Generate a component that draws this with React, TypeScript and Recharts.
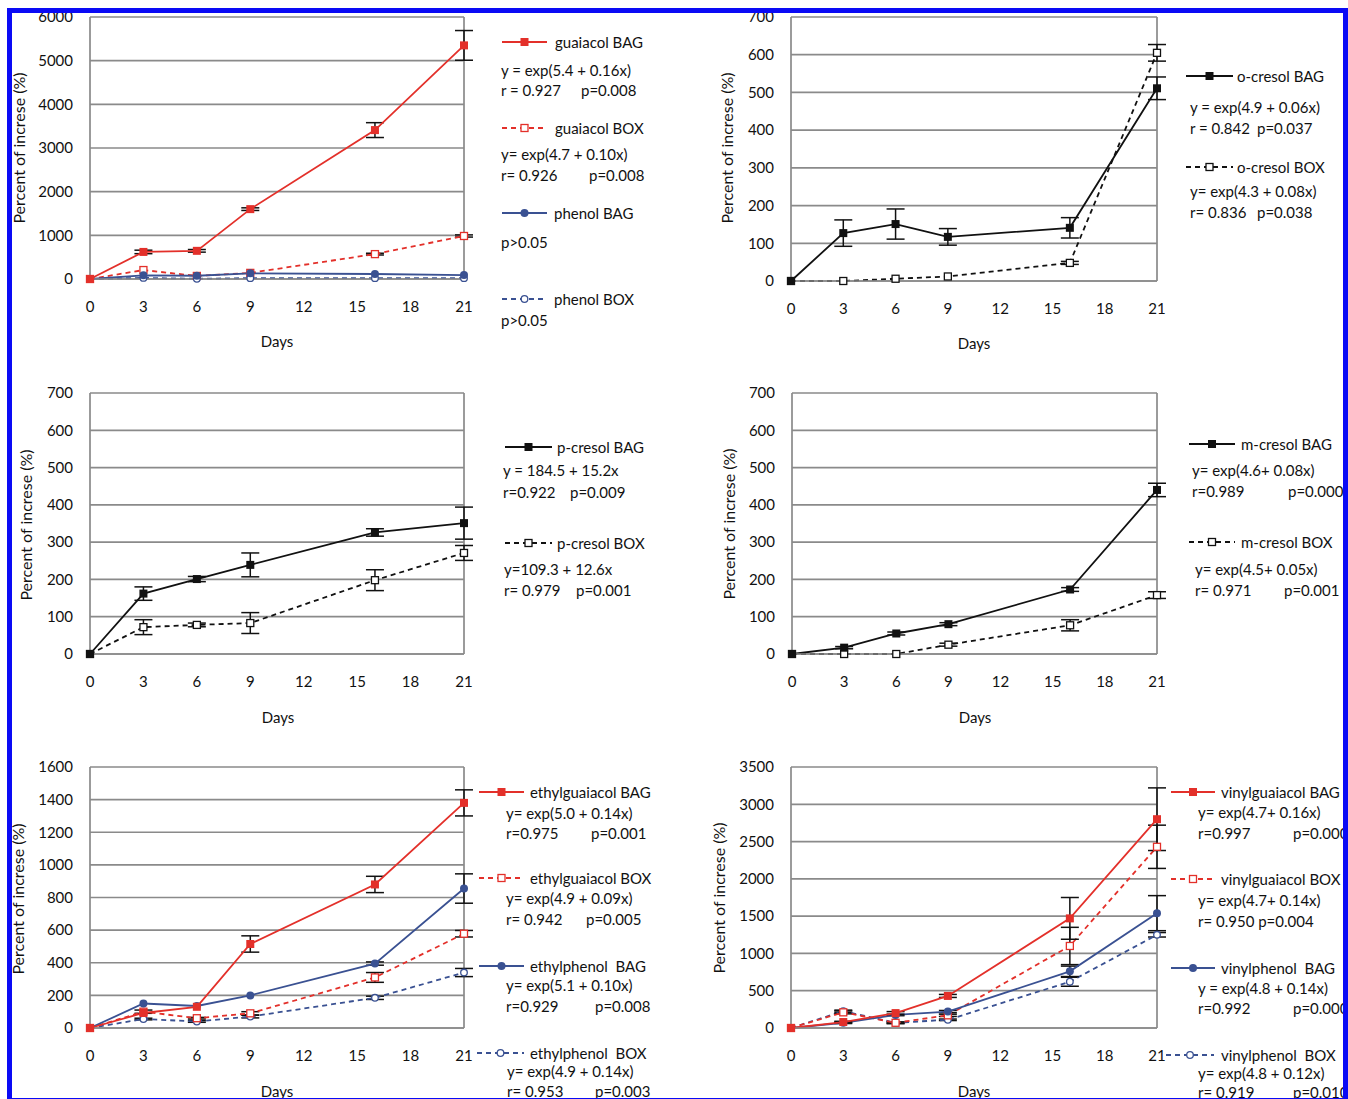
import React from "react"
import { LineChart, Line, XAxis, YAxis, CartesianGrid, ErrorBar, ReferenceLine } from "recharts"

// sampling days and axis ticks
const days = [0, 3, 6, 9, 16, 21]
const dayTicks = [0, 3, 6, 9, 12, 15, 18, 21]

// guaiacol / phenol
const guaiacolBag = [0, 620, 645, 1600, 3410, 5350]
const guaiacolBagErr = [0, 40, 30, 30, 170, 340]
const guaiacolBox = [0, 205, 70, 140, 570, 985]
const guaiacolBoxErr = [0, 0, 0, 0, 20, 25]
const phenolBag = [0, 85, 75, 130, 115, 90]
const phenolBox = [0, 25, 5, 20, 20, 20]
const ticksGuaiacol = [0, 1000, 2000, 3000, 4000, 5000, 6000]

// o-cresol
const oCresolBag = [0, 127, 151, 117, 141, 511]
const oCresolBagErr = [0, 35, 40, 22, 27, 30]
const oCresolBox = [0, 0, 6, 12, 48, 605]
const oCresolBoxErr = [0, 0, 0, 0, 4, 22]
const ticksCresol = [0, 100, 200, 300, 400, 500, 600, 700]

// p-cresol
const pCresolBag = [0, 162, 201, 239, 326, 351]
const pCresolBagErr = [0, 18, 7, 32, 10, 43]
const pCresolBox = [0, 72, 78, 83, 198, 271]
const pCresolBoxErr = [0, 20, 5, 28, 28, 20]

// m-cresol
const mCresolBag = [0, 17, 55, 80, 173, 440]
const mCresolBagErr = [0, 3, 4, 4, 5, 18]
const mCresolBox = [0, 0, 0, 25, 77, 158]
const mCresolBoxErr = [0, 0, 0, 4, 15, 9]

// ethylguaiacol / ethylphenol
const ethylguaiacolBag = [0, 92, 130, 515, 880, 1380]
const ethylguaiacolBagErr = [0, 0, 0, 50, 50, 80]
const ethylguaiacolBox = [0, 100, 60, 90, 310, 578]
const ethylguaiacolBoxErr = [0, 10, 5, 10, 30, 20]
const ethylphenolBag = [0, 150, 135, 200, 395, 855]
const ethylphenolBagErr = [0, 0, 0, 0, 10, 90]
const ethylphenolBox = [0, 55, 40, 70, 185, 340]
const ethylphenolBoxErr = [0, 5, 5, 8, 10, 25]
const ticksEthyl = [0, 200, 400, 600, 800, 1000, 1200, 1400, 1600]

// vinylguaiacol / vinylphenol
const vinylguaiacolBag = [0, 80, 200, 430, 1470, 2800]
const vinylguaiacolBagErr = [0, 10, 20, 20, 280, 420]
const vinylguaiacolBox = [0, 210, 70, 170, 1100, 2430]
const vinylguaiacolBoxErr = [0, 20, 10, 15, 250, 290]
const vinylphenolBag = [0, 70, 175, 220, 760, 1540]
const vinylphenolBagErr = [0, 10, 10, 15, 70, 235]
const vinylphenolBox = [0, 225, 70, 110, 620, 1250]
const vinylphenolBoxErr = [0, 15, 10, 10, 60, 30]
const ticksVinyl = [0, 500, 1000, 1500, 2000, 2500, 3000, 3500]

const RED = "#e3302a"
const BLUE = "#3a5192"
const BLACK = "#111"
const GRID = "#8a8a8a"
const INK = "#111"
const FONT = "Lato, 'Open Sans', sans-serif"

type Marker = "square" | "openSquare" | "circle" | "openCircle"
type Series = { key: string; values: number[]; err?: number[]; color: string; dashed?: boolean; marker: Marker }

function MarkerShape({ cx, cy, marker, color }: { cx: number; cy: number; marker: Marker; color: string }) {
  if (cx == null || cy == null) return null
  if (marker === "square") return <rect x={cx - 4} y={cy - 4} width={8} height={8} fill={color} />
  if (marker === "openSquare")
    return <rect x={cx - 3.5} y={cy - 3.5} width={7} height={7} fill="#fff" stroke={color} strokeWidth={1.3} />
  if (marker === "circle") return <circle cx={cx} cy={cy} r={4} fill={color} />
  return <circle cx={cx} cy={cy} r={3.3} fill="#fff" stroke={color} strokeWidth={1.3} />
}

type PanelProps = {
  plotLeft: number; plotTop: number; plotW: number; plotH: number
  yTicks: number[]; series: Series[]
}

function Panel({ plotLeft, plotTop, plotW, plotH, yTicks, series }: PanelProps) {
  const rows = days.map((d, i) => {
    const row: Record<string, number> = { day: d }
    series.forEach((s) => {
      row[s.key] = s.values[i]
      if (s.err) row[s.key + "Err"] = s.err[i]
    })
    return row
  })
  const tick = { fontSize: 15, fill: INK, fontFamily: FONT }
  return (
    <div style={{ position: "absolute", left: plotLeft - 90, top: plotTop - 10 }}>
      <LineChart width={90 + plotW + 12} height={10 + plotH + 60} data={rows}
        margin={{ top: 10, right: 12, bottom: 0, left: 0 }}>
        <CartesianGrid vertical={false} stroke={GRID} strokeWidth={1.7} />
        <XAxis type="number" dataKey="day" domain={[0, 21]} ticks={dayTicks} height={60}
          tick={tick} tickLine={false} tickSize={6} tickMargin={16}
          axisLine={{ stroke: GRID, strokeWidth: 1.7 }} />
        <YAxis type="number" domain={[yTicks[0], yTicks[yTicks.length - 1]]} ticks={yTicks} width={90}
          tick={tick} tickLine={false} tickSize={6} tickMargin={11}
          axisLine={{ stroke: GRID, strokeWidth: 1.7 }} />
        <ReferenceLine x={21} stroke={GRID} strokeWidth={1.7} />
        {series.map((s) => (
          <Line key={s.key} type="linear" dataKey={s.key} stroke={s.color} strokeWidth={1.8}
            strokeDasharray={s.dashed ? "5 4" : undefined} isAnimationActive={false}
            dot={(p: any) => <MarkerShape key={s.key + p.index} cx={p.cx} cy={p.cy} marker={s.marker} color={s.color} />}>
            {s.err && (
              <ErrorBar dataKey={s.key + "Err"} direction="y" width={9} stroke="#111" strokeWidth={1.5} />
            )}
          </Line>
        ))}
      </LineChart>
    </div>
  )
}

function Txt({ x, y, children, size = 15 }: { x: number; y: number; children: React.ReactNode; size?: number }) {
  return (
    <div style={{ position: "absolute", left: x, top: y, transform: "translateY(-50%)", fontSize: size,
      fontFamily: FONT, color: INK, whiteSpace: "pre", lineHeight: 1 }}>{children}</div>
  )
}

function LegendKey({ x1, x2, y, color, dashed, marker }: { x1: number; x2: number; y: number; color: string; dashed?: boolean; marker: Marker }) {
  const w = x2 - x1
  return (
    <svg style={{ position: "absolute", left: x1, top: y - 6 }} width={w} height={12}>
      <line x1={0} y1={6} x2={w} y2={6} stroke={color} strokeWidth={1.8} strokeDasharray={dashed ? "5 4" : undefined} />
      <MarkerShape cx={w / 2} cy={6} marker={marker} color={color} />
    </svg>
  )
}

function YTitle({ x, y }: { x: number; y: number }) {
  return (
    <div style={{ position: "absolute", left: x, top: y, transform: "translate(-50%, -50%) rotate(-90deg)",
      fontSize: 16, fontFamily: FONT, color: INK, whiteSpace: "nowrap" }}>Percent of increse (%)</div>
  )
}

function XTitle({ x, y }: { x: number; y: number }) {
  return (
    <div style={{ position: "absolute", left: x, top: y, transform: "translate(-50%, -50%)",
      fontSize: 15, fontFamily: FONT, color: INK }}>Days</div>
  )
}

export default function App() {
  return (
    <div style={{ position: "absolute", left: 0, top: 0, width: 1348, height: 1099, background: "#fff", overflow: "hidden" }}>
      {/* top-left: guaiacol / phenol */}
      <Panel plotLeft={90} plotTop={17} plotW={374} plotH={262} yTicks={ticksGuaiacol} series={[
        { key: "guaiacolBox", values: guaiacolBox, err: guaiacolBoxErr, color: RED, dashed: true, marker: "openSquare" },
        { key: "phenolBox", values: phenolBox, color: BLUE, dashed: true, marker: "openCircle" },
        { key: "phenolBag", values: phenolBag, color: BLUE, marker: "circle" },
        { key: "guaiacolBag", values: guaiacolBag, err: guaiacolBagErr, color: RED, marker: "square" },
      ]} />
      <YTitle x={18} y={148} />
      <XTitle x={277} y={341} />
      <LegendKey x1={502} x2={547} y={42} color={RED} marker="square" />
      <Txt x={555} y={42}>guaiacol BAG</Txt>
      <Txt x={501} y={70}>y = exp(5.4 + 0.16x)</Txt>
      <Txt x={501} y={90}>r = 0.927</Txt><Txt x={581} y={90}>p=0.008</Txt>
      <LegendKey x1={502} x2={547} y={128} color={RED} dashed marker="openSquare" />
      <Txt x={555} y={128}>guaiacol BOX</Txt>
      <Txt x={501} y={154}>y= exp(4.7 + 0.10x)</Txt>
      <Txt x={501} y={175}>r= 0.926</Txt><Txt x={589} y={175}>p=0.008</Txt>
      <LegendKey x1={502} x2={547} y={213} color={BLUE} marker="circle" />
      <Txt x={554} y={213}>phenol BAG</Txt>
      <Txt x={501} y={242}>p&gt;0.05</Txt>
      <LegendKey x1={502} x2={547} y={299} color={BLUE} dashed marker="openCircle" />
      <Txt x={554} y={299}>phenol BOX</Txt>
      <Txt x={501} y={320}>p&gt;0.05</Txt>

      {/* top-right: o-cresol */}
      <Panel plotLeft={791} plotTop={17} plotW={366} plotH={264} yTicks={ticksCresol} series={[
        { key: "oCresolBox", values: oCresolBox, err: oCresolBoxErr, color: BLACK, dashed: true, marker: "openSquare" },
        { key: "oCresolBag", values: oCresolBag, err: oCresolBagErr, color: BLACK, marker: "square" },
      ]} />
      <YTitle x={726} y={148} />
      <XTitle x={974} y={343} />
      <LegendKey x1={1186} x2={1233} y={76} color={BLACK} marker="square" />
      <Txt x={1237} y={76}>o-cresol BAG</Txt>
      <Txt x={1190} y={107}>y = exp(4.9 + 0.06x)</Txt>
      <Txt x={1190} y={128}>r = 0.842</Txt><Txt x={1257} y={128}>p=0.037</Txt>
      <LegendKey x1={1186} x2={1233} y={167} color={BLACK} dashed marker="openSquare" />
      <Txt x={1237} y={167}>o-cresol BOX</Txt>
      <Txt x={1190} y={191}>y= exp(4.3 + 0.08x)</Txt>
      <Txt x={1190} y={212}>r= 0.836</Txt><Txt x={1257} y={212}>p=0.038</Txt>

      {/* middle-left: p-cresol */}
      <Panel plotLeft={90} plotTop={393} plotW={374} plotH={261} yTicks={ticksCresol} series={[
        { key: "pCresolBox", values: pCresolBox, err: pCresolBoxErr, color: BLACK, dashed: true, marker: "openSquare" },
        { key: "pCresolBag", values: pCresolBag, err: pCresolBagErr, color: BLACK, marker: "square" },
      ]} />
      <YTitle x={25} y={525} />
      <XTitle x={278} y={717} />
      <LegendKey x1={505} x2={552} y={447} color={BLACK} marker="square" />
      <Txt x={557} y={447}>p-cresol BAG</Txt>
      <Txt x={503} y={470}>y = 184.5 + 15.2x</Txt>
      <Txt x={503} y={492}>r=0.922</Txt><Txt x={570} y={492}>p=0.009</Txt>
      <LegendKey x1={505} x2={552} y={543} color={BLACK} dashed marker="openSquare" />
      <Txt x={557} y={543}>p-cresol BOX</Txt>
      <Txt x={504} y={569}>y=109.3 + 12.6x</Txt>
      <Txt x={504} y={590}>r= 0.979</Txt><Txt x={576} y={590}>p=0.001</Txt>

      {/* middle-right: m-cresol */}
      <Panel plotLeft={792} plotTop={393} plotW={365} plotH={261} yTicks={ticksCresol} series={[
        { key: "mCresolBox", values: mCresolBox, err: mCresolBoxErr, color: BLACK, dashed: true, marker: "openSquare" },
        { key: "mCresolBag", values: mCresolBag, err: mCresolBagErr, color: BLACK, marker: "square" },
      ]} />
      <YTitle x={728} y={524} />
      <XTitle x={975} y={717} />
      <LegendKey x1={1189} x2={1235} y={444} color={BLACK} marker="square" />
      <Txt x={1241} y={444}>m-cresol BAG</Txt>
      <Txt x={1192} y={470}>y= exp(4.6+ 0.08x)</Txt>
      <Txt x={1192} y={491}>r=0.989</Txt><Txt x={1288} y={491}>p=0.000</Txt>
      <LegendKey x1={1189} x2={1235} y={542} color={BLACK} dashed marker="openSquare" />
      <Txt x={1241} y={542}>m-cresol BOX</Txt>
      <Txt x={1195} y={569}>y= exp(4.5+ 0.05x)</Txt>
      <Txt x={1195} y={590}>r= 0.971</Txt><Txt x={1284} y={590}>p=0.001</Txt>

      {/* bottom-left: ethylguaiacol / ethylphenol */}
      <Panel plotLeft={90} plotTop={767} plotW={374} plotH={261} yTicks={ticksEthyl} series={[
        { key: "ethylphenolBox", values: ethylphenolBox, err: ethylphenolBoxErr, color: BLUE, dashed: true, marker: "openCircle" },
        { key: "ethylguaiacolBox", values: ethylguaiacolBox, err: ethylguaiacolBoxErr, color: RED, dashed: true, marker: "openSquare" },
        { key: "ethylphenolBag", values: ethylphenolBag, err: ethylphenolBagErr, color: BLUE, marker: "circle" },
        { key: "ethylguaiacolBag", values: ethylguaiacolBag, err: ethylguaiacolBagErr, color: RED, marker: "square" },
      ]} />
      <YTitle x={17} y={899} />
      <XTitle x={277} y={1091} />
      <LegendKey x1={479} x2={524} y={792} color={RED} marker="square" />
      <Txt x={530} y={792}>ethylguaiacol BAG</Txt>
      <Txt x={506} y={813}>y= exp(5.0 + 0.14x)</Txt>
      <Txt x={506} y={833}>r=0.975</Txt><Txt x={591} y={833}>p=0.001</Txt>
      <LegendKey x1={479} x2={524} y={878} color={RED} dashed marker="openSquare" />
      <Txt x={530} y={878}>ethylguaiacol BOX</Txt>
      <Txt x={506} y={898}>y= exp(4.9 + 0.09x)</Txt>
      <Txt x={506} y={919}>r= 0.942</Txt><Txt x={586} y={919}>p=0.005</Txt>
      <LegendKey x1={479} x2={524} y={966} color={BLUE} marker="circle" />
      <Txt x={530} y={966}>ethylphenol  BAG</Txt>
      <Txt x={506} y={985}>y= exp(5.1 + 0.10x)</Txt>
      <Txt x={506} y={1006}>r=0.929</Txt><Txt x={595} y={1006}>p=0.008</Txt>
      <LegendKey x1={477} x2={524} y={1053} color={BLUE} dashed marker="openCircle" />
      <Txt x={530} y={1053}>ethylphenol  BOX</Txt>
      <Txt x={507} y={1071}>y= exp(4.9 + 0.14x)</Txt>
      <Txt x={507} y={1091}>r= 0.953</Txt><Txt x={595} y={1091}>p=0.003</Txt>

      {/* bottom-right: vinylguaiacol / vinylphenol */}
      <Panel plotLeft={791} plotTop={767} plotW={366} plotH={261} yTicks={ticksVinyl} series={[
        { key: "vinylphenolBox", values: vinylphenolBox, err: vinylphenolBoxErr, color: BLUE, dashed: true, marker: "openCircle" },
        { key: "vinylguaiacolBox", values: vinylguaiacolBox, err: vinylguaiacolBoxErr, color: RED, dashed: true, marker: "openSquare" },
        { key: "vinylphenolBag", values: vinylphenolBag, err: vinylphenolBagErr, color: BLUE, marker: "circle" },
        { key: "vinylguaiacolBag", values: vinylguaiacolBag, err: vinylguaiacolBagErr, color: RED, marker: "square" },
      ]} />
      <YTitle x={718} y={898} />
      <XTitle x={974} y={1091} />
      <LegendKey x1={1171} x2={1215} y={792} color={RED} marker="square" />
      <Txt x={1221} y={792}>vinylguaiacol BAG</Txt>
      <Txt x={1198} y={812}>y= exp(4.7+ 0.16x)</Txt>
      <Txt x={1198} y={833}>r=0.997</Txt><Txt x={1293} y={833}>p=0.000</Txt>
      <LegendKey x1={1171} x2={1215} y={879} color={RED} dashed marker="openSquare" />
      <Txt x={1221} y={879}>vinylguaiacol BOX</Txt>
      <Txt x={1198} y={900}>y= exp(4.7+ 0.14x)</Txt>
      <Txt x={1198} y={921}>r= 0.950 p=0.004</Txt>
      <LegendKey x1={1171} x2={1215} y={968} color={BLUE} marker="circle" />
      <Txt x={1221} y={968}>vinylphenol  BAG</Txt>
      <Txt x={1198} y={988}>y = exp(4.8 + 0.14x)</Txt>
      <Txt x={1198} y={1008}>r=0.992</Txt><Txt x={1293} y={1008}>p=0.000</Txt>
      <LegendKey x1={1166} x2={1214} y={1055} color={BLUE} dashed marker="openCircle" />
      <Txt x={1221} y={1055}>vinylphenol  BOX</Txt>
      <Txt x={1198} y={1073}>y= exp(4.8 + 0.12x)</Txt>
      <Txt x={1198} y={1092}>r= 0.919</Txt><Txt x={1293} y={1092}>p=0.010</Txt>

      {/* cropped edges and blue frame */}
      <div style={{ position: "absolute", left: 0, top: 0, width: 1348, height: 8, background: "#fff" }} />
      <div style={{ position: "absolute", left: 7, top: 8, width: 1341, height: 1095, boxSizing: "border-box",
        border: "5px solid #0a0af5", pointerEvents: "none" }} />
    </div>
  )
}
